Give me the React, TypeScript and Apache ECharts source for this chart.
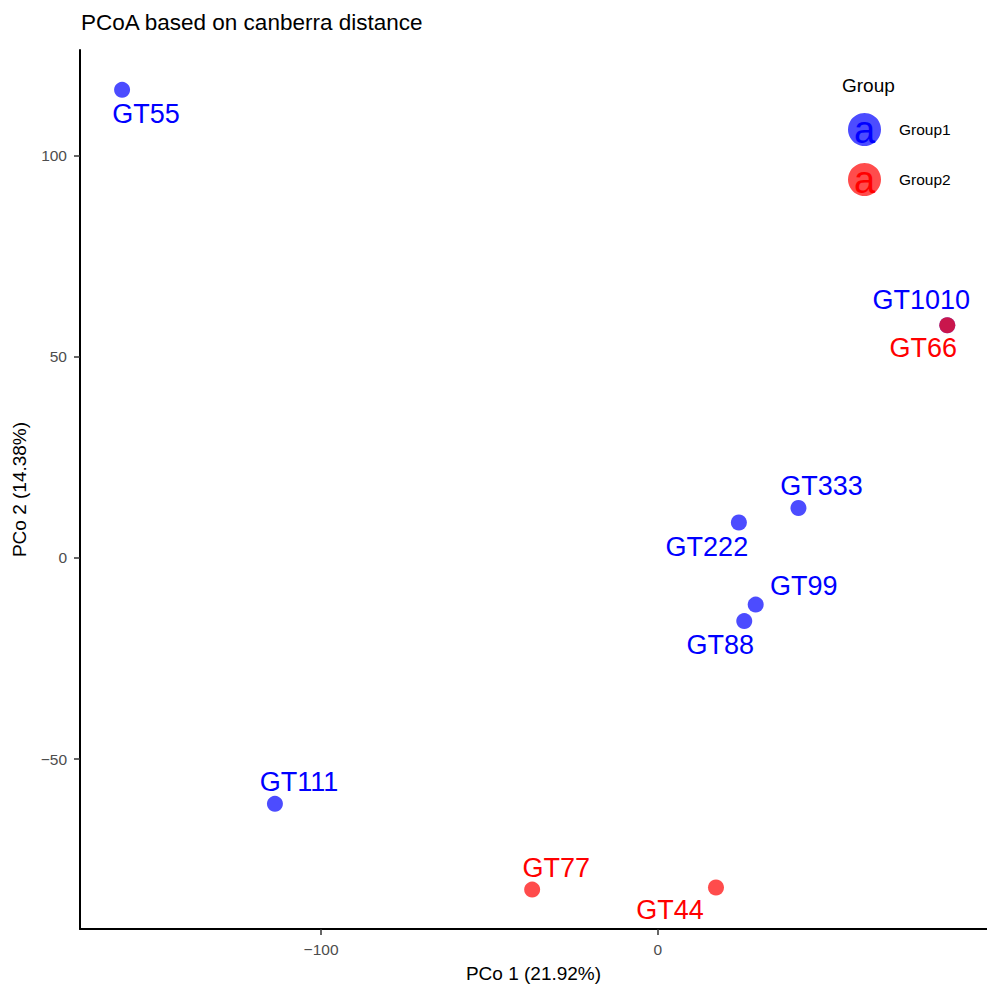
import React, { useEffect, useRef } from "react";
import * as echarts from "echarts";

// ---- data ----
const sampleNames = ["GT55", "GT111", "GT222", "GT333", "GT88", "GT99", "GT1010", "GT77", "GT44", "GT66"];
const sampleGroups = ["Group1", "Group1", "Group1", "Group1", "Group1", "Group1", "Group1", "Group2", "Group2", "Group2"];
const pco1Values = [-159.1, -113.7, 24.1, 41.8, 25.7, 29.1, 86.0, -37.3, 17.3, 86.0];
const pco2Values = [116.3, -61.1, 8.8, 12.4, -15.7, -11.6, 57.8, -82.4, -81.9, 57.8];
const groupNames = ["Group1", "Group2"];
const xTickValues = [-100, 0];
const yTickValues = [-50, 0, 50, 100];
const chartTitle = "PCoA based on canberra distance";
const xAxisTitle = "PCo 1 (21.92%)";
const yAxisTitle = "PCo 2 (14.38%)";
const legendTitle = "Group";

// ---- styling ----
const FONT = "'Liberation Sans', Arial, Helvetica, sans-serif";
const groupPointColors = ["rgba(0,0,255,0.7)", "rgba(255,0,0,0.7)"];
const groupTextColors = ["#0000ff", "#ff0000"];
// label displacement (px) relative to each point, like ggrepel's placement
const labelOffsets: Record<string, [number, number]> = {
  GT55: [24, 24],
  GT111: [24, -22],
  GT222: [-32, 24],
  GT333: [23, -22],
  GT88: [-24, 24],
  GT99: [48, -19],
  GT1010: [-26, -25],
  GT77: [24, -22],
  GT44: [-46, 22],
  GT66: [-24, 23],
};

const minusFmt = (v: number) => String(v).replace("-", "\u2212");

export default function App() {
  const ref = useRef<HTMLDivElement>(null);

  useEffect(() => {
    if (!ref.current) return;
    const chart = echarts.init(ref.current, undefined, { renderer: "svg" });

    const series = groupNames.map((g, gi) => ({
      type: "scatter",
      name: g,
      symbol: "circle",
      symbolSize: 16,
      itemStyle: { color: groupPointColors[gi], opacity: 1 },
      z: 2 + gi,
      data: sampleNames
        .map((name, i) => ({ name, i }))
        .filter((d) => sampleGroups[d.i] === g)
        .map((d) => ({
          name: d.name,
          value: [pco1Values[d.i], pco2Values[d.i]],
          label: { offset: labelOffsets[d.name] || [0, 0] },
        })),
      label: {
        show: true,
        position: "inside",
        formatter: (p: any) => p.name,
        color: groupTextColors[gi],
        fontSize: 27,
        fontFamily: FONT,
        align: "center",
        verticalAlign: "middle",
      },
      emphasis: { disabled: true },
    }));

    const legendGraphics: any[] = [
      {
        type: "text",
        left: 842,
        top: 76,
        style: { text: legendTitle, fontSize: 19, fontFamily: FONT, fill: "#000" },
      },
    ];
    groupNames.forEach((g, gi) => {
      const cy = 129.5 + gi * 50;
      legendGraphics.push(
        {
          type: "circle",
          shape: { cx: 864.5, cy, r: 16.5 },
          style: { fill: groupPointColors[gi] },
        },
        {
          type: "text",
          x: 864.5,
          y: cy,
          style: {
            text: "a",
            fontSize: 38,
            fontFamily: FONT,
            fill: groupTextColors[gi],
            align: "center",
            verticalAlign: "middle",
          },
        },
        {
          type: "text",
          x: 899,
          y: cy,
          style: {
            text: g,
            fontSize: 15.5,
            fontFamily: FONT,
            fill: "#000",
            align: "left",
            verticalAlign: "middle",
          },
        }
      );
    });

    chart.setOption({
      animation: false,
      backgroundColor: "#ffffff",
      title: {
        text: chartTitle,
        left: 76,
        top: 6,
        textStyle: { fontSize: 22.5, fontWeight: "normal", fontFamily: FONT, color: "#000" },
      },
      grid: { left: 80, right: 0, top: 50, bottom: 54, containLabel: false },
      xAxis: {
        type: "value",
        min: -171.6,
        max: 97.8,
        name: xAxisTitle,
        nameLocation: "middle",
        nameGap: 35,
        nameTextStyle: { fontSize: 19, fontFamily: FONT, color: "#000" },
        axisLine: { show: true, onZero: false, lineStyle: { color: "#000", width: 2 } },
        axisTick: { show: true, length: 6, customValues: xTickValues, lineStyle: { color: "#333", width: 1.5 } },
        axisLabel: {
          customValues: xTickValues,
          formatter: minusFmt,
          fontSize: 15.5,
          fontFamily: FONT,
          color: "#4d4d4d",
          margin: 12,
        },
        splitLine: { show: false },
      },
      yAxis: {
        type: "value",
        min: -92.2,
        max: 126.2,
        name: yAxisTitle,
        nameLocation: "middle",
        nameGap: 51,
        nameRotate: 90,
        nameTextStyle: { fontSize: 19, fontFamily: FONT, color: "#000" },
        axisLine: { show: true, onZero: false, lineStyle: { color: "#000", width: 2 } },
        axisTick: { show: true, length: 6, customValues: yTickValues, lineStyle: { color: "#333", width: 1.5 } },
        axisLabel: {
          customValues: yTickValues,
          formatter: minusFmt,
          fontSize: 15.5,
          fontFamily: FONT,
          color: "#4d4d4d",
          margin: 13,
        },
        splitLine: { show: false },
      },
      graphic: legendGraphics,
      series,
    });

    return () => chart.dispose();
  }, []);

  return (
    <div
      ref={ref}
      style={{ position: "fixed", left: 0, top: 0, width: 987, height: 988, background: "#fff" }}
    />
  );
}
